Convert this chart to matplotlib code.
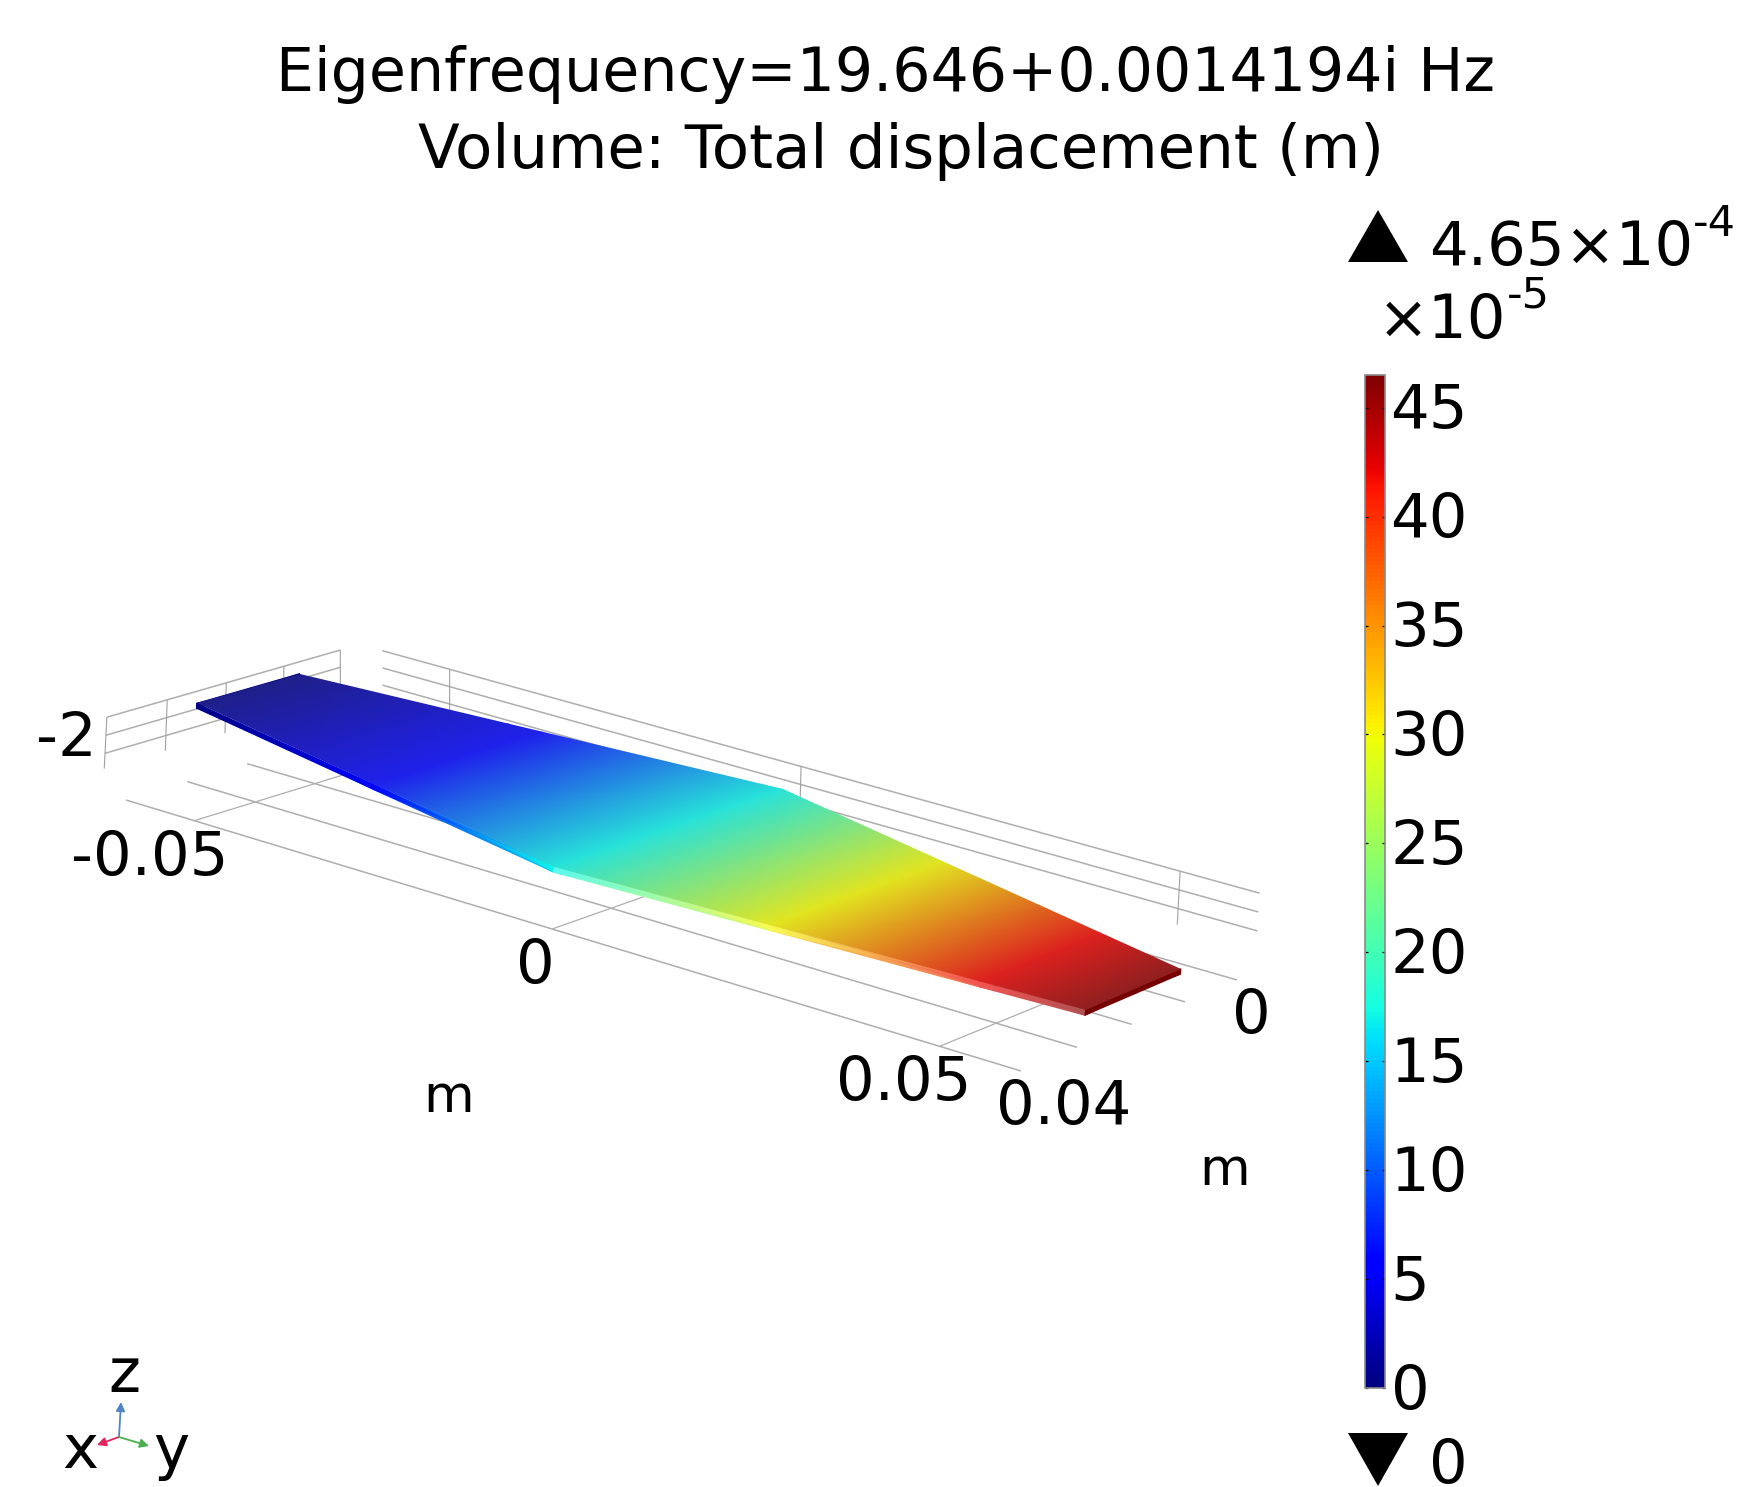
import numpy as np
import matplotlib
matplotlib.use("Agg")
import matplotlib.pyplot as plt
from matplotlib.cm import ScalarMappable
from matplotlib.colors import ListedColormap, Normalize
from matplotlib.patches import Polygon
from matplotlib.transforms import ScaledTranslation

W, H = 1748, 1487
FS = 43.8

title_lines = ["Eigenfrequency=19.646+0.0014194i Hz", "Volume: Total displacement (m)"]

# plate outline in model coordinates (metres)
plate_x = [-0.0694, -0.0694, -0.0043, 0.0613, 0.0611, -0.0043]
plate_y = [0.0002, 0.0181, 0.0348, 0.0312, 0.0131, -0.0061]

span_x = [-0.071, -0.036, -0.0045, 0.0231, 0.0487, 0.063]
span_disp = [0.0, 6.0, 17.0, 30.0, 42.0, 46.5]

# axes grid
x_ticks = [-0.05, 0.0, 0.05]
y_grid = [0.0, 0.01, 0.02, 0.03, 0.04]
z_grid = [-3, -2, -1]
cbar_ticks = [0, 5, 10, 15, 20, 25, 30, 35, 40, 45]
vmax = 46.5

# view: perspective fitted on the floor corners of the picture
FLOOR_Z = -5.2
PLATE_Z = -3.0
PLATE_T = 0.27
BACK_Y = -0.0035
LEFT_X = -0.0634


def project(x, y, z):
    u = (np.asarray(x, float) + 0.06) / 0.12
    v = np.asarray(y, float) / 0.04
    t = np.asarray(z, float) - FLOOR_Z
    w = 1 - 0.0872 * u - 0.0445 * v
    px = (766.1 * u - 242.6 * v + 363 + (1.1 * u + 0.9 * v) * t) / w
    py = (165.5 * u + 35.4 * v + 729 - 17.3 * t) / w
    return px, py


def shaded(gain, base):
    rgb = plt.get_cmap("jet")(np.linspace(0, 1, 256))[:, :3]
    return ListedColormap(np.clip(rgb * gain + base, 0, 1))


fig = plt.figure(figsize=(W / 100, H / 100), dpi=100)
ax = fig.add_axes([0, 0, 1, 1])
ax.set_xlim(0, W)
ax.set_ylim(H, 0)
ax.axis("off")

norm = Normalize(0, vmax)


def line3d(xs, ys, zs, lw=1.1, color="#aeaeae"):
    px, py = project(xs, ys, zs)
    ax.plot(px, py, color=color, lw=lw, solid_capstyle="butt", zorder=1)


# floor
for yg in y_grid:
    line3d([-0.06, 0.06], [yg, yg], [FLOOR_Z, FLOOR_Z])
for xt in x_ticks:
    line3d([xt, xt], [0.0, 0.04], [FLOOR_Z, FLOOR_Z], lw=0.9)

# back and left walls
for zg in z_grid:
    line3d([-0.06, 0.06], [BACK_Y, BACK_Y], [zg, zg])
    line3d([LEFT_X, LEFT_X], [0.0, 0.04], [zg, zg])
for xt in x_ticks:
    line3d([xt, xt], [BACK_Y, BACK_Y], [-3.85, -1], lw=0.8, color="#a0a0a0")
for yg in y_grid:
    line3d([LEFT_X, LEFT_X], [yg, yg], [-3.85, -1], lw=0.8, color="#a0a0a0")


def side_face(i, j, cmap):
    x0, x1 = plate_x[i], plate_x[j]
    y0, y1 = plate_y[i], plate_y[j]
    lo, hi = min(x0, x1), max(x0, x1)
    xs = [lo] + [s for s in span_x if lo < s < hi] + [hi]
    ys = np.interp(xs, [x0, x1] if x0 < x1 else [x1, x0], [y0, y1] if x0 < x1 else [y1, y0])
    if hi - lo < 1e-3:
        ys = np.array([y0, y1])
        xs = [x0, x1]
    vals = np.interp(xs, span_x, span_disp)
    xg = np.array([xs, xs])
    yg = np.array([ys, ys])
    zg = np.array([[PLATE_Z] * len(xs), [PLATE_Z - PLATE_T] * len(xs)])
    px, py = project(xg, yg, zg)
    ax.pcolormesh(px, py, np.array([vals, vals]), cmap=cmap, norm=norm, shading="gouraud", zorder=2)


side_face(0, 1, shaded(1.0, 0.0))
side_face(1, 2, shaded(1.0, 0.0))
side_face(2, 3, shaded(0.68, 0.32))
side_face(3, 4, shaded(0.85, 0.0))

# top face, the field clipped to the outline
mesh_x = np.array([span_x, span_x])
mesh_y = np.array([[-0.009] * len(span_x), [0.038] * len(span_x)])
mesh_c = np.array([span_disp, span_disp])
px, py = project(mesh_x, mesh_y, np.full(mesh_x.shape, PLATE_Z))
top = ax.pcolormesh(px, py, mesh_c, cmap=shaded(0.8, 0.12), norm=norm, shading="gouraud", zorder=3)
ox, oy = project(plate_x, plate_y, [PLATE_Z] * len(plate_x))
outline = Polygon(np.column_stack([ox, oy]), closed=True, fc="none", ec="none", zorder=3)
ax.add_patch(outline)
top.set_clip_path(outline)

# titles
ax.text(886, 91, title_lines[0], fontsize=43.3, ha="center", va="baseline")
ax.text(901, 168, title_lines[1], fontsize=43.9, ha="center", va="baseline")

# axis labels
ax.text(97, 756, "-2", fontsize=FS, ha="right", va="baseline")
ax.text(228, 875, "-0.05", fontsize=FS, ha="right", va="baseline")
ax.text(555, 983, "0", fontsize=FS, ha="right", va="baseline")
ax.text(972, 1100, "0.05", fontsize=FS, ha="right", va="baseline")
ax.text(1131, 1124, "0.04", fontsize=FS, ha="right", va="baseline")
ax.text(1271, 1033, "0", fontsize=FS, ha="right", va="baseline")
ax.text(449, 1112, "m", fontsize=37.5, ha="center", va="baseline")
ax.text(1225, 1185, "m", fontsize=37.5, ha="center", va="baseline")

# colour scale
ax.add_patch(Polygon([(1348, 262), (1408, 262), (1378, 210)], closed=True, fc="black", ec="none"))
ax.add_patch(Polygon([(1348, 1433), (1408, 1433), (1378, 1486)], closed=True, fc="black", ec="none"))
ax.text(1429, 265, "4.65\u00d710", fontsize=FS, va="baseline")
ax.text(1693, 236, "-4", fontsize=31, va="baseline")
ax.text(1378, 338, "\u00d710", fontsize=FS, va="baseline")
ax.text(1507, 308, "-5", fontsize=31, va="baseline")
ax.text(1429, 1483, "0", fontsize=FS, va="baseline")

cax = fig.add_axes([1365 / W, (H - 1388) / H, 20 / W, 1013 / H])
cb = fig.colorbar(ScalarMappable(norm=norm, cmap="jet"), cax=cax, ticks=cbar_ticks)
cb.outline.set_edgecolor("#8a8a8a")
cb.outline.set_linewidth(1.2)
cb.ax.tick_params(direction="in", length=2.4, width=0.9, left=True, right=True, pad=4, labelsize=FS)
nudge = ScaledTranslation(0, 1.6 / 72, fig.dpi_scale_trans)
for lab in cb.ax.get_yticklabels():
    lab.set_transform(lab.get_transform() + nudge)

# orientation triad
origin = (119, 1437)
for tip, col in [((121, 1402), "#4f86c6"), ((97, 1445), "#e0245e"), ((149, 1446), "#4caf50")]:
    ax.annotate("", xy=tip, xytext=origin,
                arrowprops=dict(arrowstyle="-|>", color=col, lw=1.3, mutation_scale=13, shrinkA=0, shrinkB=0))
ax.text(124, 1392, "z", fontsize=FS, ha="center", va="baseline")
ax.text(80, 1468, "x", fontsize=FS, ha="center", va="baseline")
ax.text(171, 1468, "y", fontsize=FS, ha="center", va="baseline")

fig.savefig("out.png", dpi=100)
